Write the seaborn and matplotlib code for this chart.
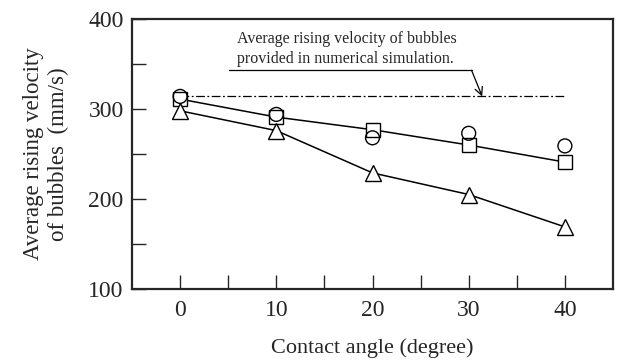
import numpy as np
import pandas as pd
import matplotlib
matplotlib.use("Agg")
import matplotlib.pyplot as plt
import seaborn as sns

# data
contact_angle = [0, 10, 20, 30, 40]
v_square = [311, 291, 277, 260, 241]
v_circle = [314, 294, 268, 273, 259]
v_triangle = [298, 276, 229, 205, 169]
v_simulation = 314

sns.set_style("ticks")
plt.rcParams['font.family'] = ['Liberation Serif', 'DejaVu Serif']

df = pd.DataFrame({"angle": contact_angle, "square": v_square,
                   "circle": v_circle, "triangle": v_triangle})

fig = plt.figure(figsize=(6.23, 3.62), dpi=100)
ax = fig.add_axes([132/623, 1-289/362, (613-132)/623, (289-19)/362])

# simulation line
ax.plot([contact_angle[0], contact_angle[-1]], [v_simulation, v_simulation],
        color="black", lw=0.9, dashes=[7, 2, 1.5, 2], zorder=1)

mk = dict(markerfacecolor="white", markeredgecolor="black", markeredgewidth=1.0)
sns.lineplot(data=df, x="angle", y="square", ax=ax, color="black", lw=1.1,
             marker="s", markersize=10, zorder=3, **mk)
sns.lineplot(data=df, x="angle", y="triangle", ax=ax, color="black", lw=1.1,
             marker="^", markersize=11, zorder=3, **mk)
sns.scatterplot(data=df, x="angle", y="circle", ax=ax, marker="o", s=100,
                facecolor="none", edgecolor="black", linewidth=1.0, zorder=4)

# annotation text with leader and arrow
ax.text(5.9, 387, "Average rising velocity of bubbles\nprovided in numerical simulation.",
        fontsize=11.5, va="top", ha="left", linespacing=1.35)
ax.plot([5.1, 30.3], [343, 343], color="black", lw=0.9)
ax.annotate("", xy=(31.4, 314), xytext=(30.3, 343),
            arrowprops=dict(arrowstyle="->", color="black", lw=0.9,
                            shrinkA=0, shrinkB=0, mutation_scale=14))

ax.set_xlim(-5, 45)
ax.set_ylim(100, 400)
ax.set_xticks([0, 10, 20, 30, 40])
ax.set_xticks([5, 15, 25, 35], minor=True)
ax.set_yticks([100, 200, 300, 400])
ax.set_yticks([150, 250, 350], minor=True)
ax.tick_params(which="both", direction="in", length=10, width=1.0,
               labelsize=17, top=False, right=False)
ax.tick_params(axis="x", pad=8)
ax.tick_params(axis="y", pad=6)
for s in ax.spines.values():
    s.set_linewidth(1.6)
    s.set_visible(True)

ax.set_xlabel("Contact angle (degree)", fontsize=16, labelpad=12)
ax.set_ylabel("Average rising velocity\nof bubbles  (mm/s)", fontsize=16.5,
              linespacing=1.2, labelpad=14)

fig.savefig("out.png", dpi=100)
